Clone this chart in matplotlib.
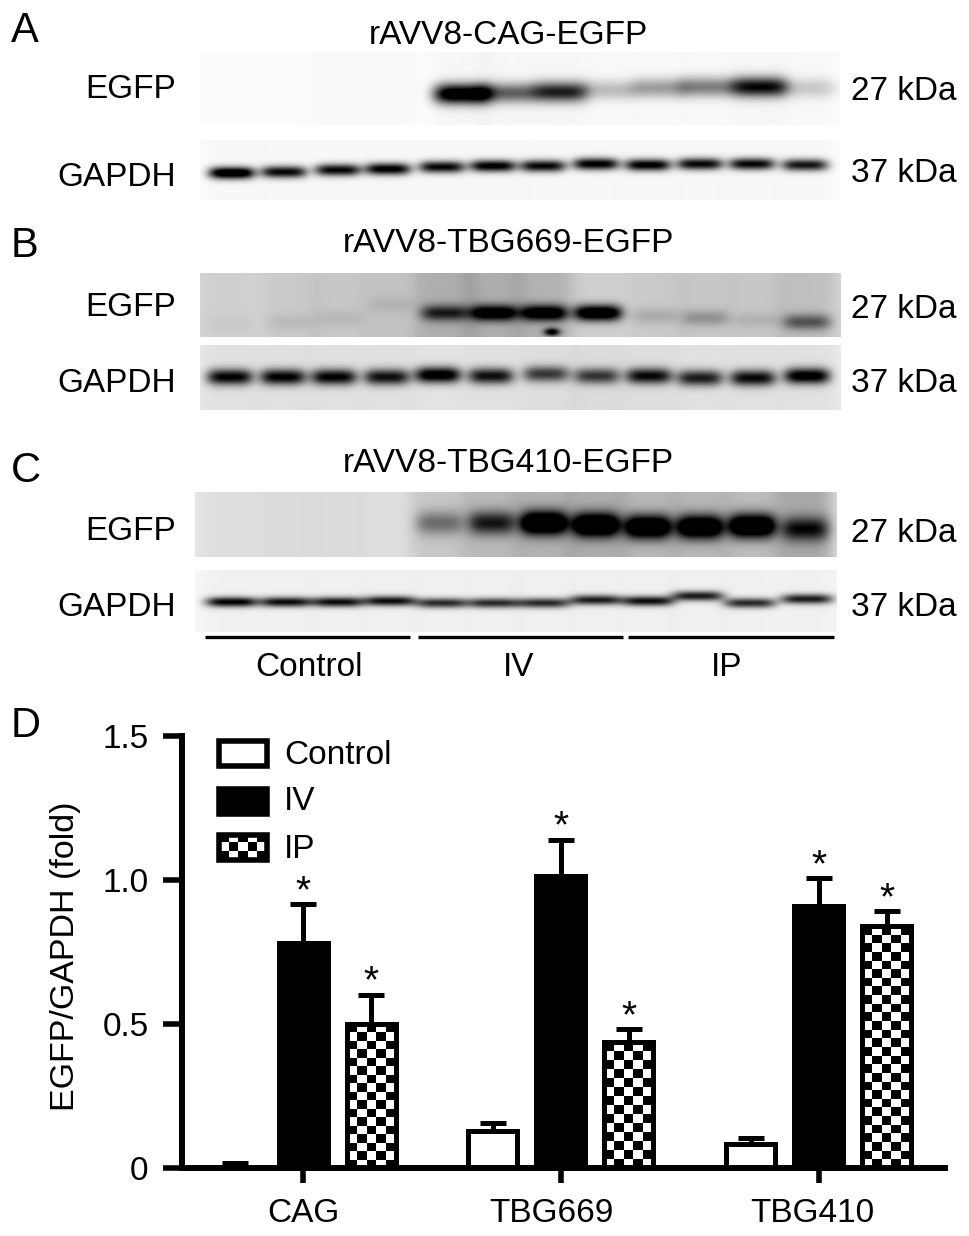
import numpy as np
import matplotlib
matplotlib.use('Agg')
import matplotlib.pyplot as plt
from matplotlib.patches import Rectangle
from matplotlib.transforms import ScaledTranslation

plt.rcParams['font.family'] = ['Liberation Sans', 'DejaVu Sans']

W, H = 969, 1236

# bar chart values
groups = ['CAG', 'TBG669', 'TBG410']
control = [0.002, 0.128, 0.082]
iv = [0.78, 1.015, 0.91]
ip = [0.50, 0.435, 0.84]
control_err = [0.012, 0.025, 0.02]
iv_err = [0.135, 0.125, 0.095]
ip_err = [0.10, 0.045, 0.05]
yticks = [0, 0.5, 1.0, 1.5]
yticklabels = ['0', '0.5', '1.0', '1.5']
# the group labels sit a little left of their ticks in the original
label_shift = [0, -9, -6]

# blot bands, per lane: x, y, strength, lane background
a_egfp_x = [230, 284, 338, 388, 462, 507, 559, 609, 659, 707, 759, 807]
a_egfp_y = [93, 93, 93, 93, 94, 93, 92, 90, 88, 87, 87, 88]
a_egfp_amp = [0, 0, 0, 0, 1.0, 0.5, 0.72, 0.2, 0.3, 0.4, 0.8, 0.16]
a_egfp_bg = [0.0, 0.0, 0.01, 0.01, 0.02, 0.02, 0.02, 0.01, 0.01, 0.01, 0.02, 0.01]

a_gapdh_x = [232, 284, 338, 388, 442, 493, 543, 596, 648, 700, 752, 805]
a_gapdh_y = [173, 172, 170, 169, 167, 166, 166, 164, 165, 164, 164, 165]
a_gapdh_amp = [1.0, 0.8, 0.8, 0.85, 0.8, 0.85, 0.8, 0.85, 0.85, 0.8, 0.8, 0.75]
a_gapdh_bg = [0.02] * 12

b_egfp_x = [230, 291, 340, 392, 445, 494, 544, 598, 655, 705, 757, 807]
b_egfp_y = [325, 322, 318, 305, 313, 313, 313, 313, 316, 318, 320, 322]
b_egfp_amp = [0.02, 0.05, 0.05, 0.05, 0.5, 0.75, 0.78, 0.9, 0.1, 0.18, 0.07, 0.36]
b_egfp_bg = [0.03, 0.05, 0.06, 0.08, 0.16, 0.16, 0.14, 0.03, 0.05, 0.06, 0.06, 0.09]
b_smudge = (552, 332, 0.8)

b_gapdh_x = [230, 283, 334, 387, 438, 491, 546, 597, 649, 700, 753, 807]
b_gapdh_y = [377, 377, 377, 377, 375, 376, 374, 376, 376, 378, 378, 376]
b_gapdh_amp = [0.75, 0.75, 0.75, 0.7, 0.85, 0.7, 0.55, 0.55, 0.72, 0.65, 0.72, 0.82]
b_gapdh_bg = [0.04, 0.04, 0.04, 0.04, 0.03, 0.04, 0.05, 0.06, 0.05, 0.04, 0.04, 0.04]

c_egfp_x = [232, 286, 338, 390, 440, 492, 544, 596, 648, 700, 752, 805]
c_egfp_y = [523, 523, 523, 523, 523, 523, 523, 525, 527, 527, 526, 529]
c_egfp_amp = [0, 0, 0, 0, 0.3, 0.55, 1.0, 1.0, 0.95, 0.95, 1.0, 0.55]
c_egfp_bg = [0.03, 0.04, 0.04, 0.03, 0.12, 0.17, 0.2, 0.22, 0.18, 0.18, 0.16, 0.24]

c_gapdh_x = [232, 286, 338, 390, 442, 494, 544, 596, 648, 698, 750, 807]
c_gapdh_y = [602, 602, 602, 601, 603, 603, 603, 600, 601, 596, 603, 599]
c_gapdh_amp = [0.8, 0.75, 0.75, 0.75, 0.65, 0.65, 0.65, 0.7, 0.75, 0.7, 0.65, 0.7]
c_gapdh_bg = [0.03] * 12


def blot(box, xs, ys, amps, lane_bg, half, sig, base=0.0):
    x0, x1, y0, y1 = box
    xx, yy = np.meshgrid(np.arange(x0, x1) + 0.5, np.arange(y0, y1) + 0.5)
    dark = np.full(xx.shape, base)
    for x, y, amp, bg in zip(xs, ys, amps, lane_bg):
        dark += bg * np.exp(-((xx - x) / 30.0) ** 4)
        dark += 1.2 * amp * np.exp(-np.abs((xx - x) / half) ** 4 - ((yy - y) / sig) ** 2)
    return dark


def show_blot(ax, box, dark):
    x0, x1, y0, y1 = box
    ax.imshow(1 - np.clip(dark, 0, 1), cmap='gray', vmin=0, vmax=1, extent=(x0, x1, y1, y0),
              aspect='auto', interpolation='bilinear', zorder=1)


def checker(ax, extent, nrows, ncols, zorder=1):
    rows, cols = np.indices((nrows, ncols))
    ax.imshow((rows + cols) % 2, cmap='gray', vmin=0, vmax=1, extent=extent,
              aspect='auto', interpolation='nearest', zorder=zorder)


fig = plt.figure(figsize=(W / 100, H / 100), dpi=100)

# bar chart
left, right, top, bottom = 182, 945, 736, 1167.5
ax = fig.add_axes([left / W, 1 - bottom / H, (right - left) / W, (bottom - top) / H])
ax.patch.set_visible(False)
step = 257.75
xlim = ((left - 303) / step, (right - 303) / step)
ylim = (0, 1.5)
x = np.arange(len(groups))
off = 68 / step
bw = 49 / step
lw = 3.6

ax.bar(x - off, control, bw, color='white', edgecolor='black', linewidth=lw, zorder=2)
ax.bar(x, iv, bw, color='black', edgecolor='black', linewidth=lw, zorder=2)
ip_bars = ax.bar(x + off, ip, bw, facecolor='none', edgecolor='black', linewidth=lw, zorder=2)
for b in ip_bars:
    h_px = b.get_height() * (bottom - top) / 1.5
    checker(ax, (b.get_x(), b.get_x() + b.get_width(), 0, b.get_height()),
            max(int(round(h_px / 8.7)), 1), 5)

for xs, vals, errs in [(x - off, control, control_err), (x, iv, iv_err), (x + off, ip, ip_err)]:
    ax.errorbar(xs, vals, yerr=[np.zeros(len(errs)), errs], fmt='none', ecolor='black',
                elinewidth=3.6, capsize=9.5, capthick=3.6, zorder=1.5)

# significance marks above the treated bars
for xs, vals, errs in [(x, iv, iv_err), (x + off, ip, ip_err)]:
    for xi, v, e in zip(xs, vals, errs):
        ax.text(xi, v + e - 0.02, '*', ha='center', va='bottom', fontsize=28,
                linespacing=1, zorder=3)

ax.set_xlim(xlim)
ax.set_ylim(ylim)
ax.set_xticks(x)
ax.set_xticklabels(groups)
ax.set_yticks(yticks)
ax.set_yticklabels(yticklabels)
ax.tick_params(axis='y', width=4.0, length=14, labelsize=24, pad=10)
ax.tick_params(axis='x', width=4.0, length=11, labelsize=24, pad=11)
for lab, dx in zip(ax.get_xticklabels(), label_shift):
    lab.set_transform(lab.get_transform() + ScaledTranslation(dx / 100, 0, fig.dpi_scale_trans))
for s in ['top', 'right']:
    ax.spines[s].set_visible(False)
for s in ['left', 'bottom']:
    ax.spines[s].set_linewidth(4.3)
ax.set_ylabel('EGFP/GAPDH (fold)', fontsize=24.5)
ax.yaxis.set_label_coords(-0.133, 0.49)

# overlay in pixel coordinates for the blots, labels and legend
ov = fig.add_axes([0, 0, 1, 1])
ov.patch.set_visible(False)
ov.axis('off')

box = (200, 840, 52, 125)
show_blot(ov, box, blot(box, a_egfp_x, a_egfp_y, a_egfp_amp, a_egfp_bg, 28, 10, 0.015))
box = (200, 840, 140, 200)
show_blot(ov, box, blot(box, a_gapdh_x, a_gapdh_y, a_gapdh_amp, a_gapdh_bg, 23, 6, 0.01))

box = (200, 841, 273, 337)
dark = blot(box, b_egfp_x, b_egfp_y, b_egfp_amp, b_egfp_bg, 24, 8, 0.16)
xx, yy = np.meshgrid(np.arange(box[0], box[1]) + 0.5, np.arange(box[2], box[3]) + 0.5)
dark += b_smudge[2] * np.exp(-((xx - b_smudge[0]) / 8.0) ** 2 - ((yy - b_smudge[1]) / 4.0) ** 2)
show_blot(ov, box, dark)
box = (200, 841, 345, 410)
show_blot(ov, box, blot(box, b_gapdh_x, b_gapdh_y, b_gapdh_amp, b_gapdh_bg, 23, 8, 0.08))

box = (195, 837, 492, 557)
show_blot(ov, box, blot(box, c_egfp_x, c_egfp_y, c_egfp_amp, c_egfp_bg, 24, 12, 0.1))
box = (195, 837, 570, 632)
show_blot(ov, box, blot(box, c_gapdh_x, c_gapdh_y, c_gapdh_amp, c_gapdh_bg, 26, 5, 0.03))

# group bars under the blots
for xa, xb in [(205, 410), (418, 623), (628, 834)]:
    ov.plot([xa, xb], [637, 637], color='black', lw=2.4, solid_capstyle='butt', zorder=2)

fs = 24
for txt, tx, ty in [('rAVV8-CAG-EGFP', 508, 35), ('rAVV8-TBG669-EGFP', 508, 243),
                    ('rAVV8-TBG410-EGFP', 508, 464)]:
    ov.text(tx, ty, txt, ha='center', va='center', fontsize=fs)
for txt, ty in [('EGFP', 90), ('GAPDH', 177), ('EGFP', 308), ('GAPDH', 384),
                ('EGFP', 532), ('GAPDH', 608)]:
    ov.text(176, ty, txt, ha='right', va='center', fontsize=fs)
for txt, ty in [('27 kDa', 92), ('37 kDa', 174), ('27 kDa', 310), ('37 kDa', 384),
                ('27 kDa', 533), ('37 kDa', 608)]:
    ov.text(851, ty, txt, ha='left', va='center', fontsize=fs)
for txt, tx in [('Control', 309), ('IV', 519), ('IP', 727)]:
    ov.text(tx, 667, txt, ha='center', va='center', fontsize=fs)
for txt, ty in [('A', 31), ('B', 246), ('C', 471), ('D', 726)]:
    ov.text(11, ty, txt, ha='left', va='center', fontsize=30)

# legend
sw_x, sw_w = 219.5, 48
ov.add_patch(Rectangle((sw_x, 740.5), sw_w, 25, facecolor='white', edgecolor='black', lw=4, zorder=3))
ov.add_patch(Rectangle((sw_x, 788.5), sw_w, 25, facecolor='black', edgecolor='black', lw=4, zorder=3))
checker(ov, (sw_x, sw_x + sw_w, 859.5, 834.5), 3, 5, zorder=2)
ov.add_patch(Rectangle((sw_x, 834.5), sw_w, 25, facecolor='none', edgecolor='black', lw=4, zorder=3))
for txt, ty in [('Control', 756), ('IV', 802), ('IP', 849)]:
    ov.text(284, ty, txt, ha='left', va='center', fontsize=fs)

ov.set_xlim(0, W)
ov.set_ylim(H, 0)

fig.savefig('out.png', dpi=100)
